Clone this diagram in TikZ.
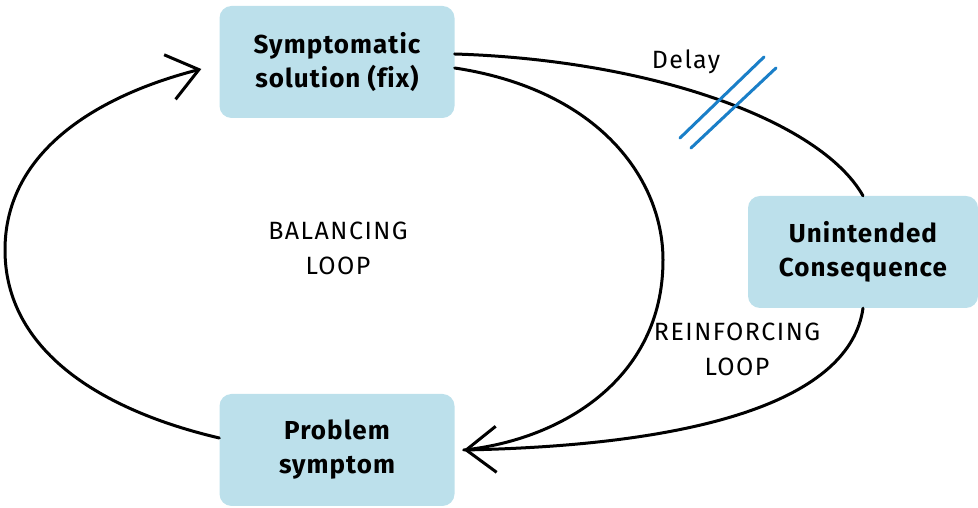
\documentclass[tikz,border=0pt]{standalone}
\usepackage{fontspec}
\setmainfont{Fira Sans}
\newfontfamily\boxfont[LetterSpace=4,Ligatures=NoCommon]{Fira Sans}
\newfontfamily\lblfont[LetterSpace=6]{Fira Sans}
\usetikzlibrary{arrows.meta}
\definecolor{boxblue}{RGB}{188,224,235}
\definecolor{delayblue}{RGB}{26,127,200}
\begin{document}
\begin{tikzpicture}[x=1pt,y=1pt, line join=round, line cap=round,
    >={Straight Barb[length=30pt,width=46pt,line width=3pt]},
    box/.style={fill=boxblue, rounded corners=12pt, minimum width=235, minimum height=112, align=center, font=\boxfont\fontsize{26}{34}\selectfont\bfseries},
    loop/.style={line width=3pt},
    lbl/.style={align=center, font=\lblfont\fontsize{25}{35}\selectfont}]
    \useasboundingbox (0,0) rectangle (978,508);
    \node[box] (fix) at (337,446) {Symptomatic\\solution (fix)};
    \node[box] (prob) at (337,58) {Problem\\symptom};
    \node[box, minimum width=230] (cons) at (863,256) {Unintended\\Consequence};
    \draw[loop,->] ([yshift=12]prob.west) .. controls (100,98) and (5,158) .. (5,258) .. controls (5,358) and (100,413) .. ([xshift=-18,yshift=-7]fix.west);
    \draw[loop] ([yshift=-6]fix.east) .. controls (600,418) and (663,328) .. (663,248) .. controls (663,128) and (560,68) .. ([xshift=9]prob.east);
    \draw[loop] ([yshift=8]fix.east) .. controls (650,448) and (820,388) .. (cons.north);
    \draw[loop,->] (cons.south) .. controls (850,108) and (700,63) .. ([xshift=9]prob.east);
    \draw[delayblue, line width=3pt] (680,370) -- (764,451);
    \draw[delayblue, line width=3pt] (691,360) -- (776,440);
    \node[lbl] (bal) at (338,260) {BALANCING\\LOOP};
    \node[lbl] (rein) at (737,159) {REINFORCING\\LOOP};
    \node[lbl] (delay) at (686,446) {Delay};
\end{tikzpicture}
\end{document}
